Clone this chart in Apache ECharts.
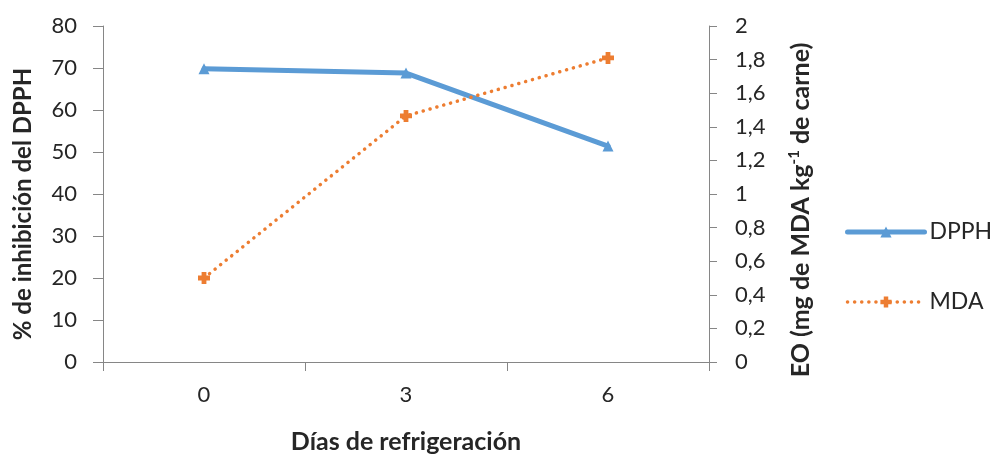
<!DOCTYPE html>
<html>
<head>
<meta charset="utf-8">
<script src="https://cdn.jsdelivr.net/npm/echarts@6/dist/echarts.min.js"></script>
<style>
html,body{margin:0;padding:0;background:#fff;}
#chart{width:990px;height:457px;}
</style>
</head>
<body>
<div id="chart"></div>
<script>
const categories = ['0', '3', '6'];
const dpphValues = [69.8, 68.8, 51.4];
const mdaValues = [0.50, 1.465, 1.81];
const leftTicks = { min: 0, max: 80, interval: 10 };
const rightTicks = { min: 0, max: 2, interval: 0.2 };

const FONT = 'Lato';
const TXT = '#262626';
const AX = '#868686';
const BLUE = '#5B9BD5';
const ORANGE = '#ED7D31';
const plusPath = 'path://M3,0 L7,0 L7,3 L10,3 L10,7 L7,7 L7,10 L3,10 L3,7 L0,7 L0,3 L3,3 Z';
const dotPattern = [0.1, 7];

const chart = echarts.init(document.getElementById('chart'));
chart.setOption({
  animation: false,
  backgroundColor: '#fff',
  textStyle: { fontFamily: FONT },
  grid: { left: 103, right: 281, top: 26, bottom: 95, containLabel: false, outerBoundsMode: 'none' },
  legend: {
    orient: 'vertical',
    left: 840,
    top: 214,
    itemWidth: 77,
    itemHeight: 14,
    itemGap: 44,
    textStyle: { fontFamily: FONT, fontSize: 23, color: TXT, lineHeight: 26 },
    data: [
      { name: 'DPPH', lineStyle: { width: 5, color: BLUE, cap: 'round' } },
      { name: 'MDA', lineStyle: { width: 3.5, color: ORANGE, type: dotPattern, cap: 'round' } }
    ]
  },
  xAxis: {
    type: 'category',
    data: categories,
    boundaryGap: true,
    name: 'Días de refrigeración',
    nameLocation: 'middle',
    nameGap: 67,
    nameTextStyle: { fontFamily: FONT, fontSize: 25, fontWeight: 'bold', color: TXT },
    axisLine: { lineStyle: { color: AX, width: 1 } },
    axisTick: { show: true, length: 9, interval: 0, lineStyle: { color: AX } },
    axisLabel: { fontFamily: FONT, fontSize: 22, color: TXT, margin: 22 }
  },
  yAxis: [
    {
      type: 'value',
      min: leftTicks.min, max: leftTicks.max, interval: leftTicks.interval,
      name: '% de inhibición del DPPH',
      nameLocation: 'middle',
      nameRotate: 90,
      nameGap: 68,
      nameTextStyle: { fontFamily: FONT, fontSize: 24, fontWeight: 'bold', color: TXT, padding: [0, 20, 0, 0] },
      axisLine: { show: true, lineStyle: { color: AX } },
      axisTick: { show: true, length: 10, lineStyle: { color: AX } },
      axisLabel: { fontFamily: FONT, fontSize: 22, color: TXT, margin: 26 },
      splitLine: { show: false }
    },
    {
      type: 'value',
      position: 'right',
      min: rightTicks.min, max: rightTicks.max, interval: rightTicks.interval,
      name: 'EO (mg de MDA kg{sup|-1} de carne)',
      nameLocation: 'middle',
      nameRotate: 90,
      nameGap: 78,
      nameTextStyle: {
        fontFamily: FONT, fontSize: 25, fontWeight: 'bold', color: TXT,
        padding: [0, 32, 0, 0],
        rich: { sup: { fontFamily: FONT, fontSize: 15, fontWeight: 'bold', color: TXT, verticalAlign: 'top', padding: [0, 0, 12, 0] } }
      },
      axisLine: { show: true, lineStyle: { color: AX } },
      axisTick: { show: true, length: 8, lineStyle: { color: AX } },
      axisLabel: {
        fontFamily: FONT, fontSize: 22, color: TXT, margin: 26,
        formatter: v => (Math.round(v * 10) / 10).toString().replace('.', ',')
      },
      splitLine: { show: false }
    }
  ],
  series: [
    {
      name: 'DPPH',
      type: 'line',
      yAxisIndex: 0,
      data: dpphValues,
      symbol: 'triangle',
      symbolSize: 11,
      lineStyle: { color: BLUE, width: 5, cap: 'round' },
      itemStyle: { color: BLUE }
    },
    {
      name: 'MDA',
      type: 'line',
      yAxisIndex: 1,
      data: mdaValues,
      symbol: plusPath,
      symbolSize: 12,
      lineStyle: { color: ORANGE, width: 3.5, type: dotPattern, cap: 'round' },
      itemStyle: { color: ORANGE }
    }
  ]
});
</script>
</body>
</html>
